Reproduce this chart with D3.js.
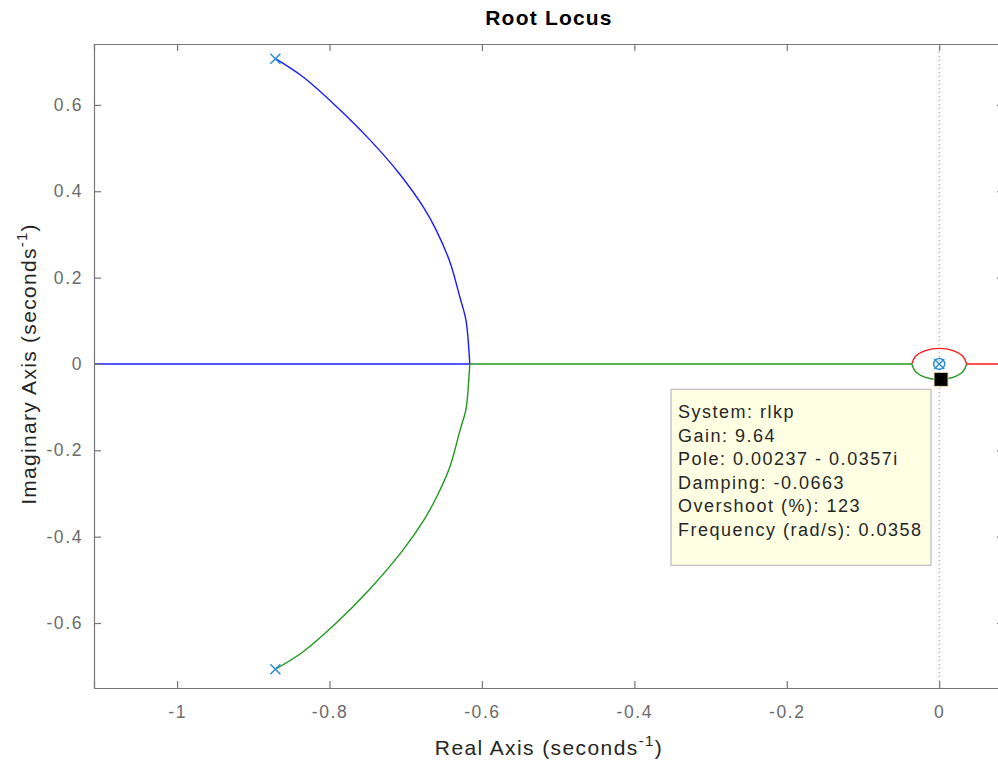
<!DOCTYPE html>
<html>
<head>
<meta charset="utf-8">
<script src="https://cdn.jsdelivr.net/npm/d3@7"></script>
<style>
  body { margin: 0; background: #fff; }
  text { font-family: "Liberation Sans", Arial, sans-serif; }
</style>
</head>
<body>
<div id="chart"></div>
<script>
// axis limits and ticks
const xLimits = [-1.109, 0.085];
const yLimits = [-0.7505, 0.741];
const xTicks = [-1, -0.8, -0.6, -0.4, -0.2, 0];
const yTicks = [-0.6, -0.4, -0.2, 0, 0.2, 0.4, 0.6];

// open-loop poles / zeros
const poles = [[-0.871, 0.707], [-0.871, -0.707], [0, 0]];
const zeros = [[0, 0]];

// branch 1 (blue): upper complex pole -> breakaway, then left along real axis
const blueArc = [
  [-0.871, 0.707], [-0.835, 0.665], [-0.792, 0.598], [-0.747, 0.519],
  [-0.708, 0.440], [-0.676, 0.361], [-0.660, 0.310], [-0.642, 0.236],
  [-0.629, 0.155], [-0.621, 0.102], [-0.617, 0.030], [-0.616, 0]
];
const blueReal = [[-0.616, 0], [-1.3, 0]];

// branch 2 (green): lower complex pole -> breakaway -> right along real axis -> lower loop
const greenArc = [
  [-0.871, -0.707], [-0.835, -0.667], [-0.793, -0.603], [-0.747, -0.521],
  [-0.705, -0.434], [-0.676, -0.361], [-0.660, -0.310], [-0.642, -0.238],
  [-0.629, -0.155], [-0.621, -0.105], [-0.617, -0.030], [-0.616, 0]
];
const greenReal = [[-0.616, 0], [-0.036, 0]];
const greenLoop = [
  [-0.036, 0], [-0.031, -0.018], [-0.018, -0.031], [0, -0.036],
  [0.018, -0.031], [0.031, -0.018], [0.036, 0]
];

// branch 3 (red): upper loop -> right along real axis
const redLoop = [
  [-0.036, 0], [-0.031, 0.018], [-0.018, 0.031], [0, 0.036],
  [0.018, 0.031], [0.031, 0.018], [0.036, 0]
];
const redReal = [[0.036, 0], [0.3, 0]];

// data tip
const tipPoint = [0.00237, -0.0357];
const tipLines = [
  "System: rlkp",
  "Gain: 9.64",
  "Pole: 0.00237 - 0.0357i",
  "Damping: -0.0663",
  "Overshoot (%): 123",
  "Frequency (rad/s): 0.0358"
];

const width = 998, height = 765;
const margin = { top: 44, left: 94, right: 1004, bottom: 688 };

const svg = d3.select("#chart").append("svg")
  .attr("width", width)
  .attr("height", height);

const x = d3.scaleLinear().domain(xLimits).range([margin.left, margin.right]);
const y = d3.scaleLinear().domain(yLimits).range([margin.bottom, margin.top]);

svg.append("defs").append("clipPath").attr("id", "plot-clip")
  .append("rect")
  .attr("x", margin.left).attr("y", margin.top)
  .attr("width", margin.right - margin.left)
  .attr("height", margin.bottom - margin.top);

const tickColor = "#6b6b6b";
const fmt = d => String(d);   // plain hyphen, like matlab

// axes (ticks inside, on all four sides)
const axisBottom = d3.axisBottom(x).tickValues(xTicks).tickSize(-7).tickPadding(18).tickFormat(fmt);
const axisTop = d3.axisTop(x).tickValues(xTicks).tickSize(-7).tickFormat("");
const axisLeft = d3.axisLeft(y).tickValues(yTicks).tickSize(-7).tickPadding(11).tickFormat(fmt);
const axisRight = d3.axisRight(y).tickValues(yTicks).tickSize(-7).tickFormat("");

function styleAxis(g) {
  g.select(".domain").attr("stroke", "#777").attr("stroke-width", 1.2);
  g.selectAll(".tick line").attr("stroke", "#777").attr("stroke-width", 1.2);
  g.selectAll(".tick text")
    .attr("fill", tickColor)
    .style("font-size", "17.5px")
    .style("letter-spacing", "1.6px");
}

// dotted imaginary axis line
const plot = svg.append("g").attr("clip-path", "url(#plot-clip)");
plot.append("line")
  .attr("x1", x(0)).attr("x2", x(0))
  .attr("y1", margin.top).attr("y2", margin.bottom)
  .attr("stroke", "#999").attr("stroke-width", 1)
  .attr("stroke-dasharray", "1,3");

const line = d3.line().x(d => x(d[0])).y(d => y(d[1]));
const smooth = d3.line().x(d => x(d[0])).y(d => y(d[1])).curve(d3.curveCatmullRom);

const branches = [
  { data: blueArc, gen: smooth, color: "#1a1aff" },
  { data: blueReal, gen: line, color: "#1a1aff" },
  { data: greenArc, gen: smooth, color: "#1f9a1f" },
  { data: greenReal, gen: line, color: "#1f9a1f" },
  { data: greenLoop, gen: smooth, color: "#1f9a1f" },
  { data: redLoop, gen: smooth, color: "#ff1a1a" },
  { data: redReal, gen: line, color: "#ff1a1a" }
];
branches.forEach(b => {
  plot.append("path").datum(b.data).attr("d", b.gen)
    .attr("fill", "none").attr("stroke", b.color).attr("stroke-width", 1.4);
});

// pole markers (x) and zero markers (o)
const markColor = "#2b8cd6";
const s = 5;
plot.selectAll(".pole").data(poles).enter().append("path")
  .attr("class", "pole")
  .attr("d", d => {
    const cx = x(d[0]), cy = y(d[1]);
    return `M${cx - s},${cy - s}L${cx + s},${cy + s}M${cx - s},${cy + s}L${cx + s},${cy - s}`;
  })
  .attr("stroke", markColor).attr("stroke-width", 1.5).attr("fill", "none");
plot.selectAll(".zero").data(zeros).enter().append("circle")
  .attr("class", "zero")
  .attr("cx", d => x(d[0])).attr("cy", d => y(d[1])).attr("r", 5.5)
  .attr("stroke", markColor).attr("stroke-width", 1.5).attr("fill", "none");

// axes on top
svg.append("g").attr("transform", `translate(0,${margin.bottom})`).call(axisBottom).call(styleAxis);
svg.append("g").attr("transform", `translate(0,${margin.top})`).call(axisTop).call(styleAxis);
svg.append("g").attr("transform", `translate(${margin.left},0)`).call(axisLeft).call(styleAxis);
svg.append("g").attr("transform", `translate(${margin.right},0)`).call(axisRight).call(styleAxis);

// data tip marker
svg.append("rect")
  .attr("x", x(tipPoint[0]) - 7).attr("y", y(tipPoint[1]) - 7)
  .attr("width", 14).attr("height", 14)
  .attr("fill", "#000").attr("stroke", "#e6dfa8").attr("stroke-width", 1);

// data tip box
const box = svg.append("g").attr("transform", `translate(${x(tipPoint[0]) - 270},${y(tipPoint[1]) + 10})`);
box.append("rect")
  .attr("x", 0).attr("y", 0).attr("width", 260).attr("height", 176)
  .attr("fill", "#ffffe3").attr("stroke", "#c8c8c8").attr("stroke-width", 1.5);
box.selectAll("text").data(tipLines).enter().append("text")
  .attr("x", 7).attr("y", (d, i) => 29 + i * 23.5)
  .attr("fill", "#262626")
  .style("font-size", "18px")
  .style("letter-spacing", "1.5px")
  .text(d => d);

// titles
const cx = (margin.left + margin.right) / 2;
svg.append("text")
  .attr("x", cx).attr("y", 25)
  .attr("text-anchor", "middle")
  .attr("fill", "#000")
  .style("font-size", "21px").style("font-weight", "bold").style("letter-spacing", "1.2px")
  .text("Root Locus");

const xl = svg.append("text")
  .attr("x", cx).attr("y", 755)
  .attr("text-anchor", "middle")
  .attr("fill", "#262626")
  .style("font-size", "21px").style("letter-spacing", "1.4px");
xl.append("tspan").text("Real Axis (seconds");
xl.append("tspan").attr("dy", -9).style("font-size", "15px").text("-1");
xl.append("tspan").attr("dy", 9).text(")");

const yl = svg.append("text")
  .attr("transform", `translate(36,${y(0)}) rotate(-90)`)
  .attr("text-anchor", "middle")
  .attr("fill", "#262626")
  .style("font-size", "21px").style("letter-spacing", "1.3px");
yl.append("tspan").text("Imaginary Axis (seconds");
yl.append("tspan").attr("dy", -9).style("font-size", "15px").text("-1");
yl.append("tspan").attr("dy", 9).text(")");
</script>
</body>
</html>
